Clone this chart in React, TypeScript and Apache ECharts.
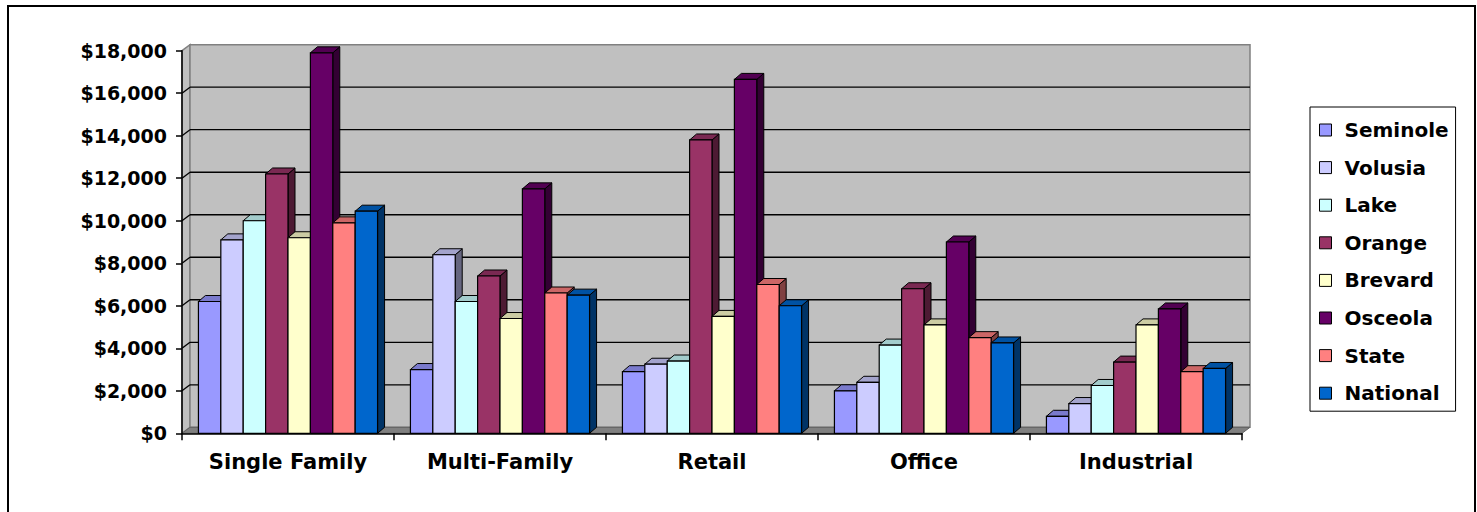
import React, { useEffect, useRef } from "react";
import * as echarts from "echarts";

const categories = ["Single Family", "Multi-Family", "Retail", "Office", "Industrial"];
const seriesNames = ["Seminole", "Volusia", "Lake", "Orange", "Brevard", "Osceola", "State", "National"];
const seminole = [6200, 3000, 2900, 2000, 800];
const volusia = [9100, 8400, 3250, 2400, 1400];
const lake = [10000, 6200, 3400, 4150, 2250];
const orange = [12200, 7400, 13800, 6800, 3350];
const brevard = [9200, 5400, 5500, 5100, 5100];
const osceola = [17900, 11500, 16650, 9000, 5850];
const stateVals = [9900, 6600, 7000, 4500, 2900];
const national = [10450, 6500, 6000, 4250, 3050];
const seriesValues = [seminole, volusia, lake, orange, brevard, osceola, stateVals, national];
const colors = ["#9999FF", "#CCCCFF", "#CCFFFF", "#993366", "#FFFFCC", "#660066", "#FF8080", "#0066CC"];
const yMax = 18000;
const yStep = 2000;
const gridValues = [2000, 4000, 6000, 8000, 10000, 12000, 14000, 16000];

const FONT = "'DejaVu Sans', sans-serif";
const WDX = 8;
const WDY = 6;
const BDX = 7;
const BDY = 6;

function shade(hex: string, f: number) {
  const n = parseInt(hex.slice(1), 16);
  const r = Math.round(((n >> 16) & 255) * f);
  const g = Math.round(((n >> 8) & 255) * f);
  const b = Math.round((n & 255) * f);
  return `rgb(${r},${g},${b})`;
}

export default function App() {
  const ref = useRef<HTMLDivElement>(null);
  useEffect(() => {
    if (!ref.current) return;
    const chart = echarts.init(ref.current, undefined, { renderer: "svg" });

    const wallSeries: any = {
      type: "custom",
      name: "__wall",
      z: -1,
      silent: true,
      data: [[0, 0]],
      encode: { x: 0, y: 1 },
      renderItem: (params: any, api: any) => {
        const cs = params.coordSys;
        const x = cs.x, y = cs.y, w = cs.width, h = cs.height;
        const children: any[] = [];
        // left side wall
        children.push({
          type: "polygon",
          shape: { points: [[x, y], [x + WDX, y - WDY], [x + WDX, y + h - WDY], [x, y + h]] },
          style: { fill: "#C0C0C0", stroke: "#808080", lineWidth: 1.5 },
        });
        // back wall
        children.push({
          type: "rect",
          shape: { x: x + WDX, y: y - WDY, width: w, height: h },
          style: { fill: "#C0C0C0", stroke: "#808080", lineWidth: 1.5 },
        });
        // floor
        children.push({
          type: "polygon",
          shape: { points: [[x, y + h], [x + WDX, y + h - WDY], [x + w + WDX, y + h - WDY], [x + w, y + h]] },
          style: { fill: "#808080", stroke: "#606060", lineWidth: 1 },
        });
        gridValues.forEach((v) => {
          const py = api.coord([0, v])[1];
          children.push({
            type: "line",
            shape: { x1: x + WDX, y1: py - WDY, x2: x + w + WDX, y2: py - WDY },
            style: { stroke: "#000", lineWidth: 1.3 },
          });
          children.push({
            type: "line",
            shape: { x1: x, y1: py, x2: x + WDX, y2: py - WDY },
            style: { stroke: "#000", lineWidth: 1.3 },
          });
        });
        return { type: "group", children };
      },
    };

    const barSeries = seriesNames.map((name, sIdx) => ({
      type: "custom",
      name,
      z: 2,
      itemStyle: { color: colors[sIdx], borderColor: "#000", borderWidth: 1 },
      data: seriesValues[sIdx].map((v, i) => [i, v]),
      encode: { x: 0, y: 1 },
      renderItem: (params: any, api: any) => {
        const ci = api.value(0);
        const v = api.value(1);
        const [cx, top] = api.coord([ci, v]);
        const base = api.coord([ci, 0])[1];
        const band = api.size([1, 0])[0];
        const bw = (band * 0.845) / 8;
        const x0 = cx - bw * 4 + sIdx * bw;
        const c = colors[sIdx];
        return {
          type: "group",
          children: [
            {
              type: "polygon",
              shape: { points: [[x0 + bw, top], [x0 + bw + BDX, top - BDY], [x0 + bw + BDX, base - BDY], [x0 + bw, base]] },
              style: { fill: shade(c, 0.5), stroke: "#000", lineWidth: 1 },
            },
            {
              type: "polygon",
              shape: { points: [[x0, top], [x0 + BDX, top - BDY], [x0 + bw + BDX, top - BDY], [x0 + bw, top]] },
              style: { fill: shade(c, 0.8), stroke: "#000", lineWidth: 1 },
            },
            {
              type: "rect",
              shape: { x: x0, y: top, width: bw, height: base - top },
              style: { fill: c, stroke: "#000", lineWidth: 1.2 },
            },
          ],
        };
      },
    }));

    chart.setOption({
      animation: false,
      backgroundColor: "#fff",
      grid: { left: 182, right: 235, top: 50.7, bottom: 78.7, containLabel: false },
      xAxis: {
        type: "category",
        data: categories,
        boundaryGap: true,
        axisLine: { show: true, lineStyle: { color: "#000", width: 1.5 } },
        axisTick: { show: true, alignWithLabel: false, length: 7, lineStyle: { color: "#000", width: 1.5 } },
        axisLabel: { margin: 18, color: "#000", fontFamily: FONT, fontWeight: "bold", fontSize: 21 },
        splitLine: { show: false },
      },
      yAxis: {
        type: "value",
        min: 0,
        max: yMax,
        interval: yStep,
        axisLine: { show: true, lineStyle: { color: "#000", width: 1.5 } },
        axisTick: { show: true, length: 6, lineStyle: { color: "#000", width: 1.5 } },
        axisLabel: {
          margin: 15,
          color: "#000",
          fontFamily: FONT,
          fontWeight: "bold",
          fontSize: 19,
          formatter: (v: number) => "$" + v.toLocaleString("en-US"),
        },
        splitLine: { show: false },
      },
      legend: {
        data: seriesNames,
        orient: "vertical",
        left: 1310,
        top: 107,
        padding: [13, 7, 8, 9],
        itemGap: 17.6,
        itemWidth: 12,
        itemHeight: 12,
        icon: "rect",
        borderColor: "#000",
        borderWidth: 1,
        backgroundColor: "#fff",
        itemStyle: { borderColor: "#000", borderWidth: 1 },
        textStyle: {
          color: "#000",
          fontFamily: FONT,
          fontWeight: "bold",
          fontSize: 20,
          lineHeight: 20,
          padding: [0, 0, 0, 8],
        },
        selectedMode: false,
      },
      graphic: [
        {
          type: "rect",
          silent: true,
          z: 100,
          shape: { x: 8, y: 6, width: 1467, height: 530 },
          style: { fill: "none", stroke: "#000", lineWidth: 2 },
        },
      ],
      series: [wallSeries, ...barSeries],
    });
    return () => chart.dispose();
  }, []);
  return (
    <div
      ref={ref}
      style={{ position: "fixed", left: 0, top: 0, width: 1477, height: 512 }}
    />
  );
}
